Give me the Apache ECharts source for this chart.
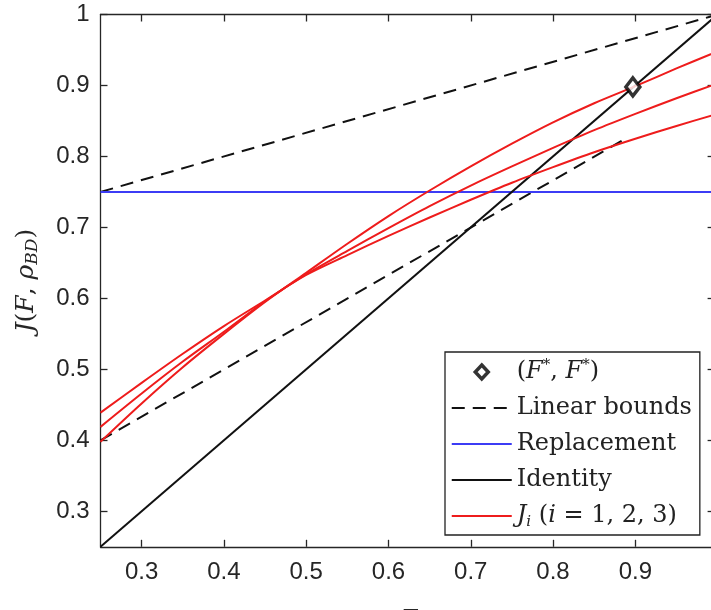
<!DOCTYPE html>
<html><head><meta charset="utf-8">
<script src="https://cdn.jsdelivr.net/npm/echarts@6/dist/echarts.min.js"></script>
<style>html,body{margin:0;padding:0;background:#fff}#c{width:711px;height:610px}</style>
</head><body><div id="c"></div>
<script>
// ---- data ----
const fidelity = [0.25,0.30,0.35,0.40,0.45,0.50,0.55,0.60,0.65,0.70,0.75,0.80,0.85,0.90,0.95,1.00];
const J1 = [0.439,0.481,0.522,0.561,0.597,0.633,0.661,0.688,0.714,0.739,0.763,0.785,0.806,0.825,0.843,0.860];
const J2 = [0.419,0.466,0.511,0.553,0.596,0.634,0.667,0.699,0.730,0.759,0.786,0.812,0.837,0.860,0.882,0.903];
const J3 = [0.398,0.452,0.503,0.550,0.595,0.636,0.677,0.716,0.752,0.786,0.818,0.848,0.875,0.899,0.924,0.948];
const upperBoundX = [0.25, 1.0];
const upperBoundY = [0.75, 1.0];
const lowerBoundX = [0.25, 0.885];
const lowerBoundY = [0.40, 0.823];
const replacementX = [0.25, 1.0];
const replacementY = [0.75, 0.75];
const identityX = [0.25, 1.0];
const identityY = [0.25, 1.0];
const fixedPointX = [0.897];
const fixedPointY = [0.898];
const tickValues = [0.3,0.4,0.5,0.6,0.7,0.8,0.9,1.0];
const xLabelValues = [0.3,0.4,0.5,0.6,0.7,0.8,0.9];
const yLabelValues = [0.3,0.4,0.5,0.6,0.7,0.8,0.9,1.0];

const zip = (xs, ys) => xs.map((x, i) => [x, ys[i]]);

const axisColor = '#262626';
const serif = '"DejaVu Serif", "Liberation Serif", serif';
const sans = '"Liberation Sans", Arial, sans-serif';
const red = '#ee1c1c';

const chart = echarts.init(document.getElementById('c'), null, {renderer: 'canvas'});

const tickStyle = (len) => ({show: true, inside: true, length: len, customValues: tickValues, lineStyle: {color: axisColor, width: 1.3}});
const baseX = {
  type: 'value', min: 0.25, max: 1,
  splitLine: {show: false},
  axisLine: {show: true, onZero: false, lineStyle: {color: axisColor, width: 1.3}},
  axisTick: tickStyle(7)
};

const richLegend = {
  n: {fontFamily: serif, fontSize: 24, color: '#222'},
  i: {fontFamily: serif, fontSize: 24, fontStyle: 'italic', color: '#222'},
  sup: {fontFamily: serif, fontSize: 15, color: '#222', verticalAlign: 'top', lineHeight: 28},
  sub: {fontFamily: serif, fontSize: 15, fontStyle: 'italic', color: '#222', verticalAlign: 'bottom', lineHeight: 28}
};
const legendText = {
  'Fstar': '{n|(}{i|F}{sup|*}{n|, }{i|F}{sup|*}{n|)}',
  'Linear bounds': '{n|Linear bounds}',
  'Replacement': '{n|Replacement}',
  'Identity': '{n|Identity}',
  'Ji': '{i|J}{sub|i}{n| (}{i|i}{n| = 1, 2, 3)}'
};
const noDot = {color: 'rgba(0,0,0,0)', borderWidth: 0, opacity: 0};

const lineSeries = (name, data, color, type) => ({
  name, type: 'line', data, showSymbol: false, symbol: 'none', smooth: false,
  lineStyle: {color, width: 2, type: type || 'solid'}, itemStyle: {color},
  emphasis: {disabled: true}, silent: true, animation: false
});

chart.setOption({
  animation: false,
  grid: {left: 100.5, right: -6.6, top: 14.5, bottom: 63.2, containLabel: false, outerBoundsMode: 'none'},
  xAxis: [
    Object.assign({}, baseX, {
      position: 'bottom',
      axisLabel: {show: true, customValues: xLabelValues, fontFamily: sans, fontSize: 24, color: axisColor, margin: 14},
      name: 'F', nameLocation: 'middle', nameGap: 62,
      nameTextStyle: {fontFamily: serif, fontStyle: 'italic', fontSize: 24, color: axisColor}
    }),
    Object.assign({}, baseX, {position: 'top', axisLabel: {show: false}})
  ],
  yAxis: [
    {
      type: 'value', min: 0.25, max: 1, position: 'left',
      splitLine: {show: false},
      axisLine: {show: true, onZero: false, lineStyle: {color: axisColor, width: 1.3}},
      axisTick: tickStyle(7),
      axisLabel: {show: true, customValues: yLabelValues, fontFamily: sans, fontSize: 24, color: axisColor, margin: 11},
      name: '{i|J}{n|(}{i|F}{n|, }{i|ρ}{sub|BD}{n|)}', nameLocation: 'middle', nameGap: 59, nameRotate: 90,
      nameTextStyle: {rich: {
        n: {fontFamily: serif, fontSize: 25, color: axisColor},
        i: {fontFamily: serif, fontSize: 25, fontStyle: 'italic', color: axisColor},
        sub: {fontFamily: serif, fontSize: 17, fontStyle: 'italic', color: axisColor, verticalAlign: 'bottom', lineHeight: 31}
      }}
    },
    {
      type: 'value', min: 0.25, max: 1, position: 'right',
      splitLine: {show: false},
      axisLine: {show: true, onZero: false, lineStyle: {color: axisColor, width: 1.3}},
      axisTick: tickStyle(10),
      axisLabel: {show: false}
    }
  ],
  legend: {
    orient: 'vertical', left: 445, top: 352,
    padding: [6, 8, 5, 5], itemGap: 12, itemWidth: 60, itemHeight: 14, itemTextGap: 7,
    backgroundColor: '#fff', borderColor: '#222', borderWidth: 1.3, borderRadius: 0,
    selectedMode: false,
    data: [
      {name: 'Fstar', icon: 'path://M0,0M60,14M30,0L36.5,7L30,14L23.5,7Z',
       itemStyle: {color: '#fff', borderColor: '#000', borderWidth: 3.5}},
      {name: 'Linear bounds', itemStyle: noDot},
      {name: 'Replacement', itemStyle: noDot},
      {name: 'Identity', itemStyle: noDot},
      {name: 'Ji', itemStyle: noDot}
    ],
    formatter: name => legendText[name],
    textStyle: {rich: richLegend, fontFamily: serif, fontSize: 24, color: '#222'}
  },
  series: [
    lineSeries('Linear bounds', zip(upperBoundX, upperBoundY), '#111', [13, 8]),
    lineSeries('Linear bounds', zip(lowerBoundX, lowerBoundY), '#111', [13, 8]),
    lineSeries('Replacement', zip(replacementX, replacementY), '#3c3cf5'),
    lineSeries('Identity', zip(identityX, identityY), '#111'),
    Object.assign(lineSeries('Ji', zip(fidelity, J1), red), {smooth: 0.3}),
    Object.assign(lineSeries('Ji', zip(fidelity, J2), red), {smooth: 0.3}),
    Object.assign(lineSeries('Ji', zip(fidelity, J3), red), {smooth: 0.3}),
    {
      name: 'Fstar', type: 'scatter', data: zip(fixedPointX, fixedPointY),
      symbol: 'diamond', symbolSize: [14, 18], z: 10, silent: true,
      itemStyle: {color: '#fff', borderColor: '#000', borderWidth: 3.5}
    }
  ]
});
</script>
</body></html>
